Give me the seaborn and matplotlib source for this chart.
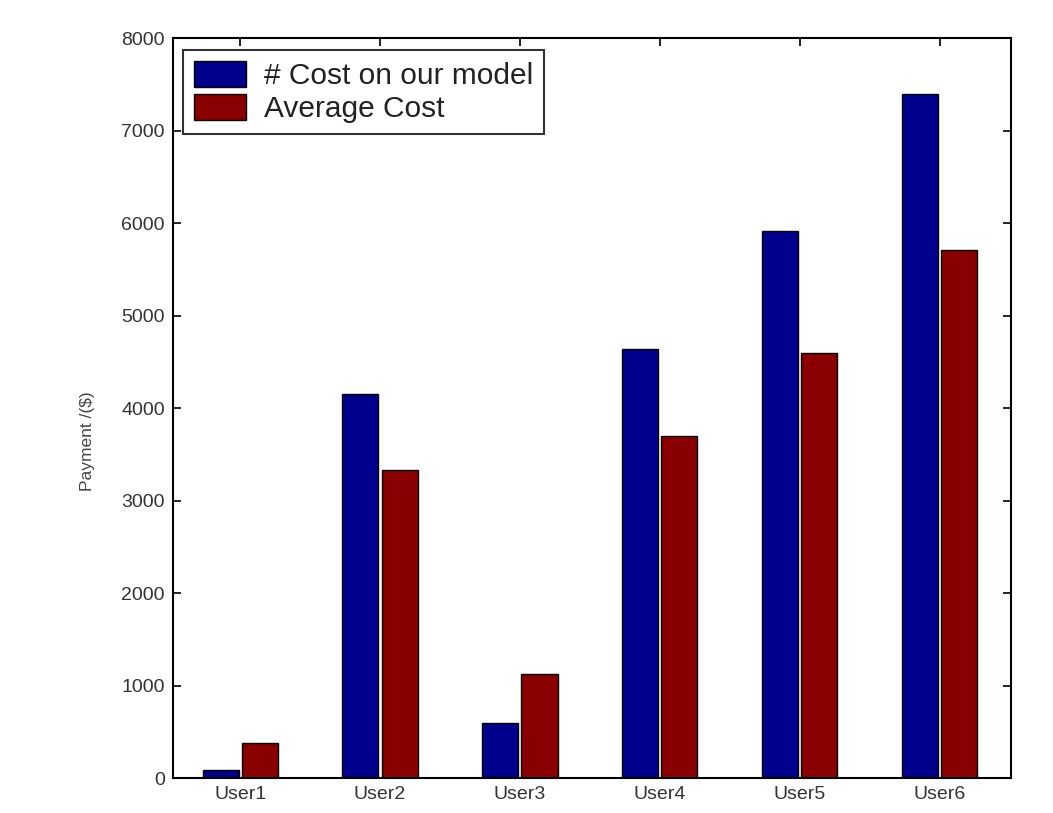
import matplotlib
matplotlib.use("Agg")
import matplotlib.pyplot as plt
import seaborn as sns
import pandas as pd

users = ["User1", "User2", "User3", "User4", "User5", "User6"]
cost_our_model = [90, 4150, 590, 4640, 5910, 7400]
average_cost = [380, 3330, 1120, 3700, 4600, 5710]
series_names = ["# Cost on our model", "Average Cost"]
y_ticks = [0, 1000, 2000, 3000, 4000, 5000, 6000, 7000, 8000]

df = pd.DataFrame({
    "User": users * 2,
    "Payment": cost_our_model + average_cost,
    "Series": [series_names[0]] * len(users) + [series_names[1]] * len(users),
})

sns.set_theme(style="white")
plt.rcParams["font.family"] = ["Liberation Sans", "DejaVu Sans"]

fig = plt.figure(figsize=(10.53, 8.13), dpi=100)
ax = fig.add_axes([0.1643, 0.043, 0.7957, 0.910])

sns.barplot(data=df, x="User", y="Payment", hue="Series", order=users,
            hue_order=series_names, palette=["#00008C", "#8A0000"],
            width=0.56, gap=0.08, edgecolor="black", linewidth=1.0,
            saturation=1, ax=ax)

ax.set_xlim(-0.48, 5.51)
ax.set_ylim(0, 8000)
ax.set_yticks(y_ticks)
ax.set_yticklabels([str(v) for v in y_ticks], fontsize=14, color="#333333")
ax.tick_params(axis="x", labelsize=14, labelcolor="#333333", pad=6)
ax.tick_params(axis="y", pad=6)
ax.tick_params(direction="in", length=6, width=1.2, color="black",
               left=True, right=True, top=True, bottom=False)
ax.set_xlabel("")
ax.set_ylabel("Payment /($)", fontsize=12.5, color="#444444")
ax.yaxis.set_label_coords(-0.093, 0.455)

for side in ax.spines.values():
    side.set_visible(True)
    side.set_color("black")
    side.set_linewidth(1.5)

leg = ax.legend(loc="upper left", bbox_to_anchor=(0.012, 0.984),
                fontsize=21.5, frameon=True, fancybox=False, edgecolor="black",
                handlelength=1.75, handleheight=0.95, handletextpad=0.6,
                borderpad=0.36, labelspacing=0.14, borderaxespad=0)
leg.get_frame().set_linewidth(1.5)
for t in leg.get_texts():
    t.set_color("#222222")

fig.savefig("out.png", dpi=100)
